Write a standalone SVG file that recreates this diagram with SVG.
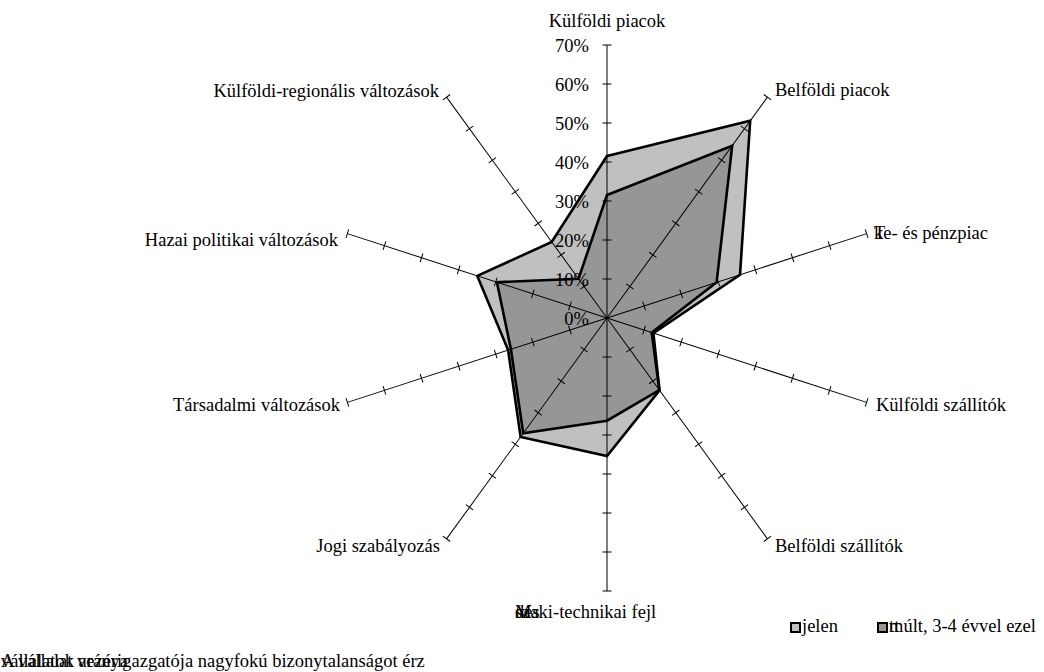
<svg xmlns="http://www.w3.org/2000/svg" xmlns:xlink="http://www.w3.org/1999/xlink" width="1044" height="672" viewBox="0 0 1044 672">
<style>
text{font-family:"Liberation Serif","Times New Roman",serif;font-size:18.5px;fill:#000}
.ax{stroke:#000;stroke-width:1;fill:none}
.ser{stroke:#000;stroke-width:2.6;stroke-linejoin:miter}
.jelen{fill:#C0C0C0}
.mult{fill:#969696}
.r{text-anchor:end}
.m{text-anchor:middle}
</style>
<defs>
<g id="ax">
<line class="ax" x1="607" y1="318" x2="607" y2="45"/>
<path class="ax" d="M602.5,279h9M602.5,240h9M602.5,201h9M602.5,162h9M602.5,123h9M602.5,84h9M602.5,45h9"/>
</g>
</defs>
<rect width="1044" height="672" fill="#fff"/>
<g id="series">
<polygon id="s-jelen" class="ser jelen" points="607,156 750.2,120.8 740,274.8 653.4,333.1 659.5,390.3 607,456 520.6,436.9 508.1,350.1 477.3,275.9 551.7,242"/>
<polygon id="s-mult" class="ser mult" points="607,195 732.2,145.7 716.6,282.4 651.7,332.5 659.3,390 607,420.7 523.2,433.3 510.9,349.2 496.9,282.2 578.5,278.8"/>
</g>
<g id="axes">
<use xlink:href="#ax"/>
<use xlink:href="#ax" transform="rotate(36 607 318)"/>
<use xlink:href="#ax" transform="rotate(72 607 318)"/>
<use xlink:href="#ax" transform="rotate(108 607 318)"/>
<use xlink:href="#ax" transform="rotate(144 607 318)"/>
<use xlink:href="#ax" transform="rotate(180 607 318)"/>
<use xlink:href="#ax" transform="rotate(216 607 318)"/>
<use xlink:href="#ax" transform="rotate(252 607 318)"/>
<use xlink:href="#ax" transform="rotate(288 607 318)"/>
<use xlink:href="#ax" transform="rotate(324 607 318)"/>
</g>
<g id="scale">
<text class="r" x="589" y="51.5">70%</text>
<text class="r" x="589" y="90.5">60%</text>
<text class="r" x="589" y="129.5">50%</text>
<text class="r" x="589" y="168.5">40%</text>
<text class="r" x="589" y="207.5">30%</text>
<text class="r" x="589" y="246.5">20%</text>
<text class="r" x="589" y="285.5">10%</text>
<text class="r" x="589" y="324.5">0%</text>
</g>
<g id="labels">
<g id="n-kulfoldi-piacok"><text class="m" x="607" y="27">Külföldi piacok</text></g>
<g id="n-belfoldi-piacok"><text x="775" y="96">Belföldi piacok</text></g>
<g id="n-toke"><text x="874" y="239">T</text><text x="874" y="239">ke- és pénzpiac</text></g>
<g id="n-kulfoldi-szallitok"><text x="876" y="411">Külföldi szállítók</text></g>
<g id="n-belfoldi-szallitok"><text x="775" y="552">Belföldi szállítók</text></g>
<g id="n-muszaki"><text x="515" y="618">M</text><text x="515" y="618">szaki-technikai fejl</text><text x="515" y="618">dés</text></g>
<g id="n-jogi"><text class="r" x="440" y="552">Jogi szabályozás</text></g>
<g id="n-tarsadalmi"><text class="r" x="340" y="411">Társadalmi változások</text></g>
<g id="n-hazai"><text class="r" x="338" y="246">Hazai politikai változások</text></g>
<g id="n-kulfoldi-reg"><text class="r" x="439" y="97">Külföldi-regionális változások</text></g>
</g>
<g id="legend">
<rect x="791" y="623" width="9" height="9" fill="#C0C0C0" stroke="#000" stroke-width="2"/>
<text x="802" y="631.5">jelen</text>
<rect x="878" y="623" width="9" height="9" fill="#969696" stroke="#000" stroke-width="2"/>
<text x="889" y="631.5">tt</text>
<text x="889" y="631.5">múlt, 3-4 évvel ezel</text>
</g>
<g id="caption">
<text x="1" y="667">A vállalat vezérigazgatója nagyfokú bizonytalanságot érz</text>
<text x="1" y="667"> vállalatok aránya</text>
</g>
</svg>
